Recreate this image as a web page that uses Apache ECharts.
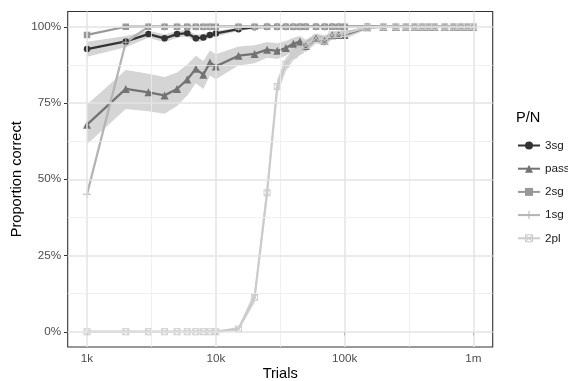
<!DOCTYPE html>
<html><head><meta charset="utf-8">
<script src="https://cdn.jsdelivr.net/npm/echarts@6/dist/echarts.min.js"></script>
<style>html,body{margin:0;padding:0;background:#fff}#c{width:568px;height:381px}</style>
</head><body><div id="c"></div>
<script>
// ---- data ----
const trials = [1000,2000,3000,4000,5000,6000,7000,8000,9000,10000,
  15000,20000,25000,30000,35000,40000,45000,50000,
  60000,70000,80000,90000,100000,
  150000,200000,250000,300000,350000,400000,450000,500000,
  600000,700000,800000,900000,1000000];
const seriesNames = ['3sg','pass','2sg','1sg','2pl'];
const p3sg = [92.7,95.2,97.6,96.2,97.6,97.9,96.2,96.5,97.3,97.8,
  99.2,99.8,100,100,100,100,100,100,
  100,100,100,100,100,
  100,100,100,100,100,100,100,100,
  100,100,100,100,100];
const lo3sg = [90.2,93.3,96.4,94.9,96.4,96.8,94.9,95.3,96.2,96.8,
  98.6,99.4,99.8,99.9,100,100,100,100,
  100,100,100,100,100,
  100,100,100,100,100,100,100,100,
  100,100,100,100,100];
const hi3sg = [95.1,97.0,98.7,97.5,98.6,98.9,97.4,97.7,98.3,98.7,
  99.7,100,100,100,100,100,100,100,
  100,100,100,100,100,
  100,100,100,100,100,100,100,100,
  100,100,100,100,100];
const pPass = [67.9,79.6,78.5,77.5,79.6,82.7,86.2,84.3,88.3,87.0,
  90.5,91.1,92.5,92.1,93.0,94.4,95.2,93.7,
  96.3,95.5,97.2,97.3,97.3,
  99.8,100,100,100,100,100,100,100,
  100,100,100,100,100];
const loPass = [61.5,73.0,72.3,71.5,74.0,77.5,81.5,79.6,84.0,82.8,
  87.3,88.0,89.8,89.4,90.5,92.2,93.1,91.6,
  94.6,93.8,95.9,96.0,96.0,
  99.2,99.8,100,100,100,100,100,100,
  100,100,100,100,100];
const hiPass = [74.5,85.8,84.6,83.5,85.0,87.6,90.5,88.8,92.2,91.0,
  93.5,93.9,95.0,94.6,95.3,96.4,97.0,95.7,
  97.8,97.1,98.4,98.5,98.5,
  100,100,100,100,100,100,100,100,
  100,100,100,100,100];
const p2sg = [97.3,100,100,100,100,100,100,100,100,100,
  100,100,100,100,100,100,100,100,
  100,100,100,100,100,
  100,100,100,100,100,100,100,100,
  100,100,100,100,100];
const p1sg = [45.1,94.9,100,100,100,100,100,100,100,100,
  100,100,100,100,100,100,100,100,
  100,100,100,100,100,
  100,100,100,100,100,100,100,100,
  100,100,100,100,100];
const p2pl = [0,0,0,0,0,0,0,0,0,0,
  0.9,11.2,45.6,80.4,87.8,90.8,92.3,93.9,
  96.3,95.6,97.4,97.5,97.8,
  99.8,100,100,100,100,100,100,100,
  100,100,100,100,100];
const lo2pl = [0,0,0,0,0,0,0,0,0,0,
  0.4,9.5,43.0,77.8,85.6,89.0,90.6,92.4,
  95.2,94.4,96.5,96.6,97.0,
  99.5,100,100,100,100,100,100,100,
  100,100,100,100,100];
const hi2pl = [0.2,0.2,0.2,0.2,0.2,0.2,0.2,0.2,0.2,0.2,
  1.6,13.2,48.2,82.8,89.8,92.5,93.9,95.3,
  97.3,96.7,98.2,98.3,98.5,
  100,100,100,100,100,100,100,100,
  100,100,100,100,100];
const xTickValues = [1000,10000,100000,1000000];
const xTickLabels = ['1k','10k','100k','1m'];
const xMinorValues = [3162.28,31622.8,316228];
const yTickValues = [0,25,50,75,100];
const yTickLabels = ['0%','25%','50%','75%','100%'];
const yMinorValues = [12.5,37.5,62.5,87.5];

// ---- styling ----
const colors = ['#333333','#737373','#989898','#b4b4b4','#cccccc'];
const plusPath = 'path://M4.35,0H5.65V4.35H10V5.65H5.65V10H4.35V5.65H0V4.35H4.35Z';
const sqCrossPath = 'path://M0,0H10V10H0Z M1.3,1.3V8.7H8.7V1.3Z M1.3,2.1L2.1,1.3L8.7,7.9L7.9,8.7Z M7.9,1.3L8.7,2.1L2.1,8.7L1.3,7.9Z';
const symbols = ['circle','triangle','rect',plusPath,sqCrossPath];
const symbolSizes = [6.5,8,6.5,8,7];
const values = [p3sg,pPass,p2sg,p1sg,p2pl];
const ribbonFill = 'rgba(150,150,150,0.4)';
const FONT = '"Liberation Sans", Arial, Helvetica, sans-serif';

const lx = v => Math.log10(v);
const pts = ys => trials.map((t,i) => [lx(t), ys[i]]);

function ribbon(key, lo, hi) {
  return {
    type:'custom', name:'rib_'+key, silent:true, z:1, animation:false,
    data: [[0]],
    renderItem: (params, api) => {
      const top = trials.map((t,i) => api.coord([lx(t), hi[i]]));
      const bot = trials.map((t,i) => api.coord([lx(t), lo[i]])).reverse();
      return {type:'polygon', shape:{points: top.concat(bot)}, style:{fill: ribbonFill, stroke:'none'}};
    }
  };
}

const major = {color:'#e3e3e3', width:1.5, type:'solid'};
const minor = {color:'#ececec', width:0.8, type:'solid'};
const gridLines = [];
xTickValues.forEach(v => gridLines.push({xAxis: lx(v), lineStyle: major}));
xMinorValues.forEach(v => gridLines.push({xAxis: lx(v), lineStyle: minor}));
yTickValues.forEach(v => gridLines.push({yAxis: v, lineStyle: major}));
yMinorValues.forEach(v => gridLines.push({yAxis: v, lineStyle: minor}));

const series = [
  {type:'line', name:'grid', data:[], silent:true, z:0, animation:false,
   markLine:{silent:true, symbol:['none','none'], label:{show:false}, animation:false, data: gridLines}},
  ribbon('3sg', lo3sg, hi3sg),
  ribbon('pass', loPass, hiPass),
  ribbon('2pl', lo2pl, hi2pl)
];
seriesNames.forEach((n,i) => {
  series.push({
    type:'line', name:n, data: pts(values[i]), symbol: symbols[i], symbolSize: symbolSizes[i],
    showSymbol:true, lineStyle:{color: colors[i], width:2.3}, itemStyle:{color: colors[i]},
    z: 3, animation:false, emphasis:{disabled:true}
  });
});

const chart = echarts.init(document.getElementById('c'), null, {renderer:'canvas'});
chart.setOption({
  animation:false,
  backgroundColor:'#ffffff',
  title:{text:'P/N', left:516, top:110, padding:0,
    textStyle:{fontFamily:FONT, fontSize:14.6, fontWeight:'normal', color:'#000'}},
  legend:{data: seriesNames, orient:'vertical', left:517, top:139.5, itemWidth:22, itemHeight:10, itemGap:11.2,
    padding:0, textStyle:{fontFamily:FONT, fontSize:11.7, color:'#1a1a1a'}, selectedMode:false},
  grid:{left:67.7, right:75.3, top:11.5, bottom:34, show:true, borderColor:'#333333', borderWidth:1.1,
    backgroundColor:'transparent', containLabel:false, outerBoundsMode:'none'},
  xAxis:{type:'value', min: lx(707.946), max: lx(1412537.5),
    name:'Trials', nameLocation:'middle', nameGap:19, nameMoveOverlap:false,
    nameTextStyle:{fontFamily:FONT, fontSize:14.6, color:'#000'},
    axisLine:{show:false}, splitLine:{show:false},
    axisTick:{show:true, length:3.7, lineStyle:{color:'#333333', width:1}, customValues: xTickValues.map(lx)},
    axisLabel:{show:true, margin:5.5, fontFamily:FONT, fontSize:11.7, color:'#4d4d4d',
      customValues: xTickValues.map(lx),
      formatter: v => { const i = xTickValues.findIndex(t => Math.abs(lx(t)-v) < 1e-6); return i >= 0 ? xTickLabels[i] : ''; }}
  },
  yAxis:{type:'value', min:-5, max:105,
    name:'Proportion correct', nameLocation:'middle', nameGap:43, nameMoveOverlap:false,
    nameTextStyle:{fontFamily:FONT, fontSize:14.6, color:'#000'},
    axisLine:{show:false}, splitLine:{show:false},
    axisTick:{show:true, length:3.7, lineStyle:{color:'#333333', width:1}, customValues: yTickValues},
    axisLabel:{show:true, margin:6.5, fontFamily:FONT, fontSize:11.7, color:'#4d4d4d',
      customValues: yTickValues,
      formatter: v => { const i = yTickValues.indexOf(v); return i >= 0 ? yTickLabels[i] : ''; }}
  },
  series: series
});
</script></body></html>
